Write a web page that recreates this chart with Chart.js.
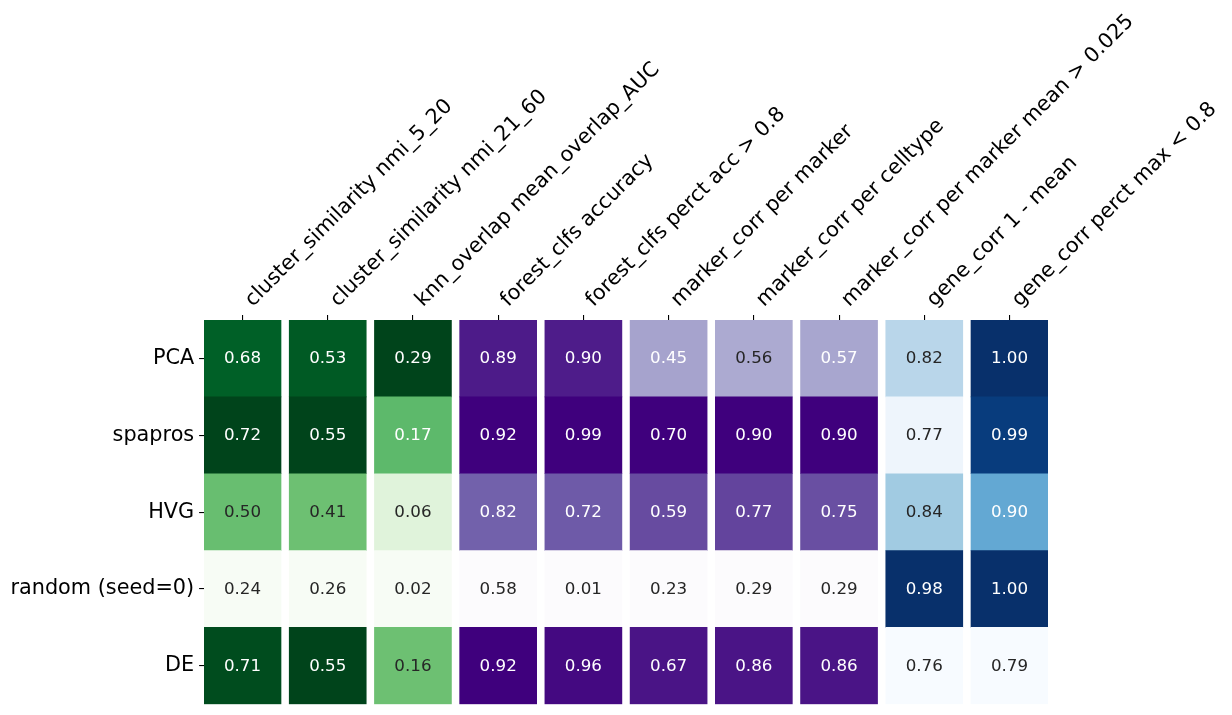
<!DOCTYPE html>
<html>
<head>
<meta charset="utf-8">
<script src="https://cdn.jsdelivr.net/npm/chart.js@4.4.1/dist/chart.umd.min.js"></script>
<style>
  body { margin: 0; background: #fff; }
  #wrap { width: 1232px; height: 715px; }
</style>
</head>
<body>
<div id="wrap"><canvas id="myChart"></canvas></div>
<script>
const rowNames = ["PCA", "spapros", "HVG", "random (seed=0)", "DE"];

const metricNames = [
  "cluster_similarity nmi_5_20",
  "cluster_similarity nmi_21_60",
  "knn_overlap mean_overlap_AUC",
  "forest_clfs accuracy",
  "forest_clfs perct acc > 0.8",
  "marker_corr per marker",
  "marker_corr per celltype",
  "marker_corr per marker mean > 0.025",
  "gene_corr 1 - mean",
  "gene_corr perct max < 0.8",
];

// values as read (third decimal estimated from the cell shade)
const pcaVals = [0.68, 0.53, 0.29, 0.89, 0.90, 0.45, 0.56, 0.57, 0.824, 1.00];
const spaprosVals = [0.722, 0.55, 0.17, 0.92, 0.99, 0.70, 0.90, 0.90, 0.77, 0.99];
const hvgVals = [0.497, 0.41, 0.06, 0.82, 0.72, 0.59, 0.77, 0.75, 0.84, 0.90];
const randomVals = [0.244, 0.26, 0.02, 0.58, 0.01, 0.23, 0.29, 0.29, 0.98, 1.00];
const deVals = [0.71, 0.55, 0.16, 0.92, 0.96, 0.67, 0.86, 0.86, 0.76, 0.79];

const metricCmap = ["Greens", "Greens", "Greens", "Purples", "Purples",
  "Purples", "Purples", "Purples", "Blues", "Blues"];

const allRows = [pcaVals, spaprosVals, hvgVals, randomVals, deVals];

// colorbrewer stops, same as matplotlib
const cmaps = {
  Greens: ["#f7fcf5", "#e5f5e0", "#c7e9c0", "#a1d99b", "#74c476", "#41ab5d", "#238b45", "#006d2c", "#00441b"],
  Purples: ["#fcfbfd", "#efedf5", "#dadaeb", "#bcbddc", "#9e9ac8", "#807dba", "#6a51a3", "#54278f", "#3f007d"],
  Blues: ["#f7fbff", "#deebf7", "#c6dbef", "#9ecae1", "#6baed6", "#4292c6", "#2171b5", "#08519c", "#08306b"],
};

function hexRgb(h) {
  return [1, 3, 5].map((i) => parseInt(h.substr(i, 2), 16));
}

function sampleCmap(name, t) {
  const stops = cmaps[name].map(hexRgb);
  t = Math.min(1, Math.max(0, t));
  const idx = Math.min(255, Math.floor(t * 256)) / 255;
  const p = idx * (stops.length - 1);
  const i = Math.min(stops.length - 2, Math.floor(p));
  const f = p - i;
  return stops[i].map((c, k) => Math.round(c + (stops[i + 1][k] - c) * f));
}

function luminance(rgb) {
  const lin = rgb.map((c) => {
    c = c / 255;
    return c <= 0.03928 ? c / 12.92 : Math.pow((c + 0.055) / 1.055, 2.4);
  });
  return 0.2126 * lin[0] + 0.7152 * lin[1] + 0.0722 * lin[2];
}

const cells = [];
const fills = [];
const textColors = [];
allRows.forEach((vals, r) => {
  vals.forEach((v, c) => {
    const col = allRows.map((row) => row[c]);
    const lo = Math.min(...col);
    const hi = Math.max(...col);
    const rgb = sampleCmap(metricCmap[c], (v - lo) / (hi - lo));
    cells.push({ x: c, y: [r, r + 1], v: v });
    fills.push(`rgb(${rgb.join(",")})`);
    textColors.push(luminance(rgb) > 0.408 ? "#262626" : "#ffffff");
  });
});

const cellText = {
  id: "cellText",
  afterDatasetsDraw(chart) {
    const ctx = chart.ctx;
    const meta = chart.getDatasetMeta(0);
    ctx.save();
    ctx.font = "16.7px 'DejaVu Sans'";
    ctx.textAlign = "center";
    ctx.textBaseline = "middle";
    meta.data.forEach((bar, i) => {
      ctx.fillStyle = textColors[i];
      ctx.fillText(cells[i].v.toFixed(2), bar.x, (bar.y + bar.base) / 2 + 0.5);
    });
    ctx.restore();
  },
};

function noPad(s) {
  s.paddingTop = 0;
  s.paddingBottom = 0;
  s.paddingLeft = 0;
  s.paddingRight = 0;
}

const divChart = document.getElementById("myChart");

const myChart = new Chart(divChart, {
  type: "bar",
  data: {
    datasets: [
      {
        data: cells,
        backgroundColor: fills,
        borderWidth: 0,
        barThickness: 77,
      },
    ],
  },
  options: {
    responsive: true,
    maintainAspectRatio: false,
    animation: false,
    layout: { padding: { left: 0, right: 184, top: 0, bottom: 10.7 } },
    plugins: { legend: { display: false }, tooltip: { enabled: false } },
    scales: {
      x: {
        type: "linear",
        position: "top",
        offset: false,
        min: -0.4518,
        max: 9.4518,
        afterBuildTicks: (s) => {
          s.ticks = metricNames.map((m, i) => ({ value: i }));
        },
        afterFit: (s) => {
          s.height = 320;
          noPad(s);
        },
        ticks: {
          callback: (v) => metricNames[v],
          minRotation: 45,
          maxRotation: 45,
          autoSkip: false,
          padding: 2.9,
          labelOffset: 24,
          color: "#000",
          font: { family: "DejaVu Sans", size: 20.8 },
        },
        grid: { offset: false, drawOnChartArea: false, drawTicks: true, tickLength: 4.9, color: "#000", lineWidth: 1.1 },
        border: { display: false },
      },
      y: {
        type: "linear",
        reverse: true,
        min: 0,
        max: 5,
        afterBuildTicks: (s) => {
          s.ticks = rowNames.map((n, i) => ({ value: i + 0.5 }));
        },
        afterFit: (s) => {
          s.width = 204;
          noPad(s);
        },
        ticks: {
          callback: (v) => rowNames[Math.floor(v)],
          autoSkip: false,
          padding: 4.9,
          color: "#000",
          font: { family: "DejaVu Sans", size: 20.8 },
        },
        grid: { drawOnChartArea: false, drawTicks: true, tickLength: 4.9, color: "#000", lineWidth: 1.1 },
        border: { display: false },
      },
    },
  },
  plugins: [cellText],
});
</script>
</body>
</html>
